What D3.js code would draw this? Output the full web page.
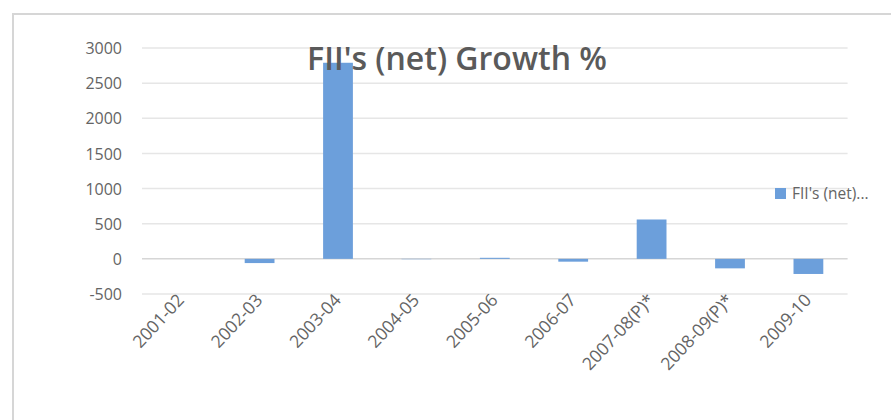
<!DOCTYPE html>
<html>
<head>
<meta charset="utf-8">
<script src="https://cdn.jsdelivr.net/npm/d3@7/dist/d3.min.js"></script>
<style>
  html, body { margin: 0; padding: 0; background: #fff; }
  svg { display: block; }
</style>
</head>
<body>
<svg id="chart" width="891" height="420"></svg>
<script>
// FII (net) growth per financial year, in percent
const categories = ["2001-02", "2002-03", "2003-04", "2004-05", "2005-06", "2006-07", "2007-08(P)*", "2008-09(P)*", "2009-10"];
const growth = [0, -60, 2790, -5, 15, -40, 560, -135, -215];
const yTicks = [-500, 0, 500, 1000, 1500, 2000, 2500, 3000];
const seriesName = "FII's (net)...";
const chartTitle = "FII's (net) Growth %";

const svg = d3.select("#chart");
const font = "'Open Sans', 'Noto Sans', sans-serif";
const textColor = "#646464";

// chart area frame
svg.append("rect")
  .attr("x", 13).attr("y", 14)
  .attr("width", 900).attr("height", 420)
  .attr("fill", "none")
  .attr("stroke", "#d6d6d6")
  .attr("stroke-width", 2);

const plot = { left: 142, right: 847.6, top: 48, bottom: 294 };

const x = d3.scaleBand()
  .domain(categories)
  .range([plot.left, plot.right])
  .paddingInner(0.62)
  .paddingOuter(0.31);

const y = d3.scaleLinear()
  .domain([-500, 3000])
  .range([plot.bottom, plot.top]);

// horizontal gridlines
svg.append("g")
  .selectAll("line")
  .data(yTicks)
  .join("line")
  .attr("x1", plot.left).attr("x2", plot.right)
  .attr("y1", d => y(d)).attr("y2", d => y(d))
  .attr("stroke", d => d === 0 ? "#d6d6d6" : "#e6e6e6")
  .attr("stroke-width", 1.5);

// y axis labels (plain hyphen for negatives)
const yAxis = d3.axisLeft(y).tickValues(yTicks).tickSize(0).tickPadding(0).tickFormat(d => String(d));
const yG = svg.append("g")
  .attr("transform", `translate(${plot.left - 20},0)`)
  .call(yAxis);
yG.select(".domain").remove();
yG.selectAll("text")
  .attr("font-family", font)
  .attr("font-size", 16)
  .attr("fill", textColor)
  .attr("dy", "0.35em");

// bars
svg.append("g")
  .selectAll("rect")
  .data(categories.map((c, i) => ({ c, v: growth[i] })))
  .join("rect")
  .attr("x", d => x(d.c))
  .attr("width", x.bandwidth())
  .attr("y", d => Math.min(y(d.v), y(0)))
  .attr("height", d => Math.abs(y(d.v) - y(0)))
  .attr("fill", "#6c9fdb");

// rotated category labels
const xAxis = d3.axisBottom(x).tickSize(0).tickPadding(0);
const xG = svg.append("g")
  .attr("transform", `translate(0,${plot.bottom + 7})`)
  .call(xAxis);
xG.select(".domain").remove();
xG.selectAll("text")
  .attr("font-family", font)
  .attr("font-size", 17.5)
  .attr("fill", textColor)
  .attr("text-anchor", "end")
  .attr("dy", "0")
  .attr("y", 0)
  .attr("transform", "translate(4,0) rotate(-47)");

// title
svg.append("text")
  .attr("x", 457).attr("y", 70)
  .attr("text-anchor", "middle")
  .attr("font-family", font)
  .attr("font-size", 32)
  .attr("font-weight", 600)
  .attr("fill", "#5a5a5a")
  .text(chartTitle);

// legend
const legend = svg.append("g").attr("transform", "translate(775,188)");
legend.append("rect")
  .attr("width", 11).attr("height", 11)
  .attr("fill", "#6c9fdb");
legend.append("text")
  .attr("x", 17).attr("y", 6)
  .attr("dy", "0.35em")
  .attr("font-family", font)
  .attr("font-size", 15.5)
  .attr("fill", textColor)
  .text(seriesName);
</script>
</body>
</html>
